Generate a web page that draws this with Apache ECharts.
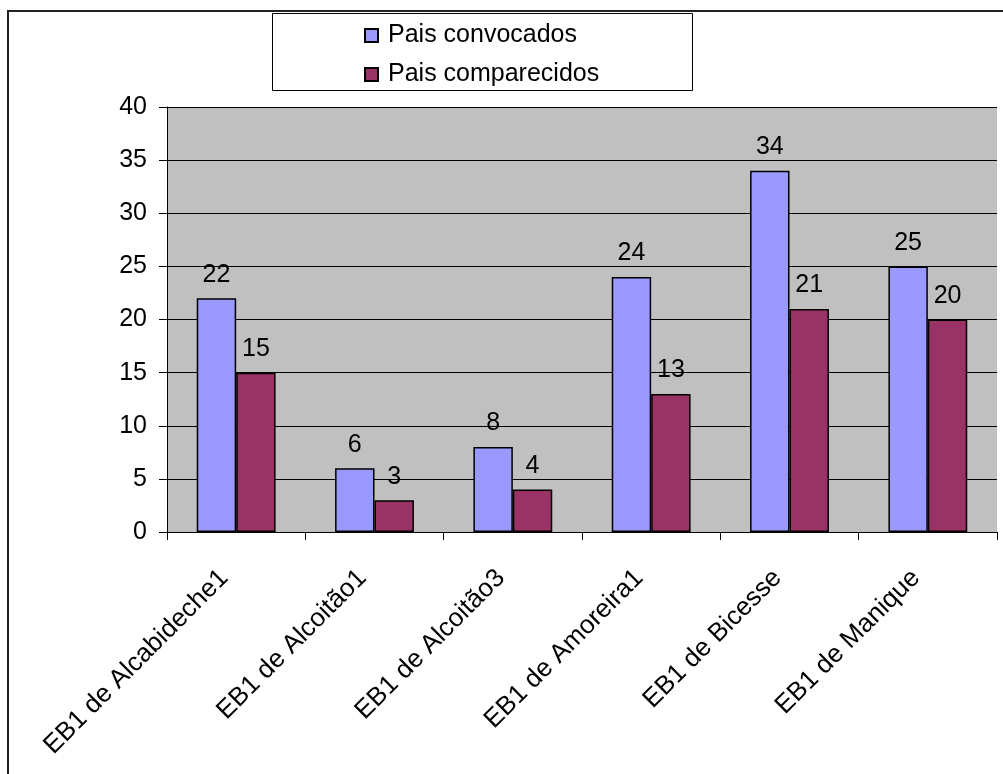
<!DOCTYPE html>
<html>
<head>
<meta charset="utf-8">
<script src="https://cdn.jsdelivr.net/npm/echarts@6/dist/echarts.min.js"></script>
<style>
html,body{margin:0;padding:0;background:#fff;}
#chart{width:1003px;height:774px;}
</style>
</head>
<body>
<div id="chart"></div>
<script>
const categories = ["EB1 de Alcabideche1", "EB1 de Alcoitão1", "EB1 de Alcoitão3", "EB1 de Amoreira1", "EB1 de Bicesse", "EB1 de Manique"];
const convocados = [22, 6, 8, 24, 34, 25];
const comparecidos = [15, 3, 4, 13, 21, 20];
const seriesNames = ["Pais convocados", "Pais comparecidos"];
const yTicks = { min: 0, max: 40, interval: 5 };

const FONT = "'Liberation Sans', Arial, sans-serif";
const chart = echarts.init(document.getElementById('chart'), null, { renderer: 'canvas' });

const labelCfg = {
  show: true,
  position: 'top',
  distance: 11,
  color: '#000',
  fontFamily: FONT,
  fontSize: 25
};

chart.setOption({
  backgroundColor: '#fff',
  animation: false,
  graphic: [
    { type: 'rect', shape: { x: 8, y: 11, width: 1200, height: 900 }, style: { fill: 'none', stroke: '#222', lineWidth: 2 }, z: 0 },
    { type: 'rect', shape: { x: 272.5, y: 13.5, width: 420, height: 77 }, style: { fill: '#fff', stroke: '#000', lineWidth: 1 }, z: 0 }
  ],
  legend: {
    orient: 'vertical',
    left: 364,
    top: 23,
    padding: 0,
    itemWidth: 13,
    itemHeight: 13,
    itemGap: 14,
    icon: 'rect',
    textStyle: { fontFamily: FONT, fontSize: 25, color: '#000', lineHeight: 25, padding: [0, 0, 0, 5] },
    data: seriesNames
  },
  grid: { left: 167, right: 6, top: 107, bottom: 242, show: true, backgroundColor: '#c0c0c0', borderWidth: 0 },
  xAxis: {
    type: 'category',
    data: categories,
    axisLine: { show: true, lineStyle: { color: '#000', width: 1 } },
    axisTick: { show: true, length: 8, lineStyle: { color: '#000' } },
    axisLabel: { interval: 0, rotate: 45, margin: 30, padding: [0, 17, 24, 0], color: '#000', fontFamily: FONT, fontSize: 26 },
    splitLine: { show: false }
  },
  yAxis: {
    type: 'value',
    min: yTicks.min,
    max: yTicks.max,
    interval: yTicks.interval,
    axisLine: { show: true, lineStyle: { color: '#000', width: 1 } },
    axisTick: { show: true, length: 8, lineStyle: { color: '#000' } },
    axisLabel: { margin: 20, color: '#000', fontFamily: FONT, fontSize: 25 },
    splitLine: { show: true, lineStyle: { color: '#000', width: 1 } }
  },
  series: [
    {
      name: seriesNames[0],
      type: 'bar',
      data: convocados,
      barGap: '0%',
      barCategoryGap: '43%',
      itemStyle: { color: '#9999ff', borderColor: '#000', borderWidth: 1.5 },
      label: labelCfg
    },
    {
      name: seriesNames[1],
      type: 'bar',
      data: comparecidos,
      barGap: '0%',
      barCategoryGap: '43%',
      itemStyle: { color: '#993366', borderColor: '#000', borderWidth: 1.5 },
      label: labelCfg
    }
  ]
});
</script>
</body>
</html>
